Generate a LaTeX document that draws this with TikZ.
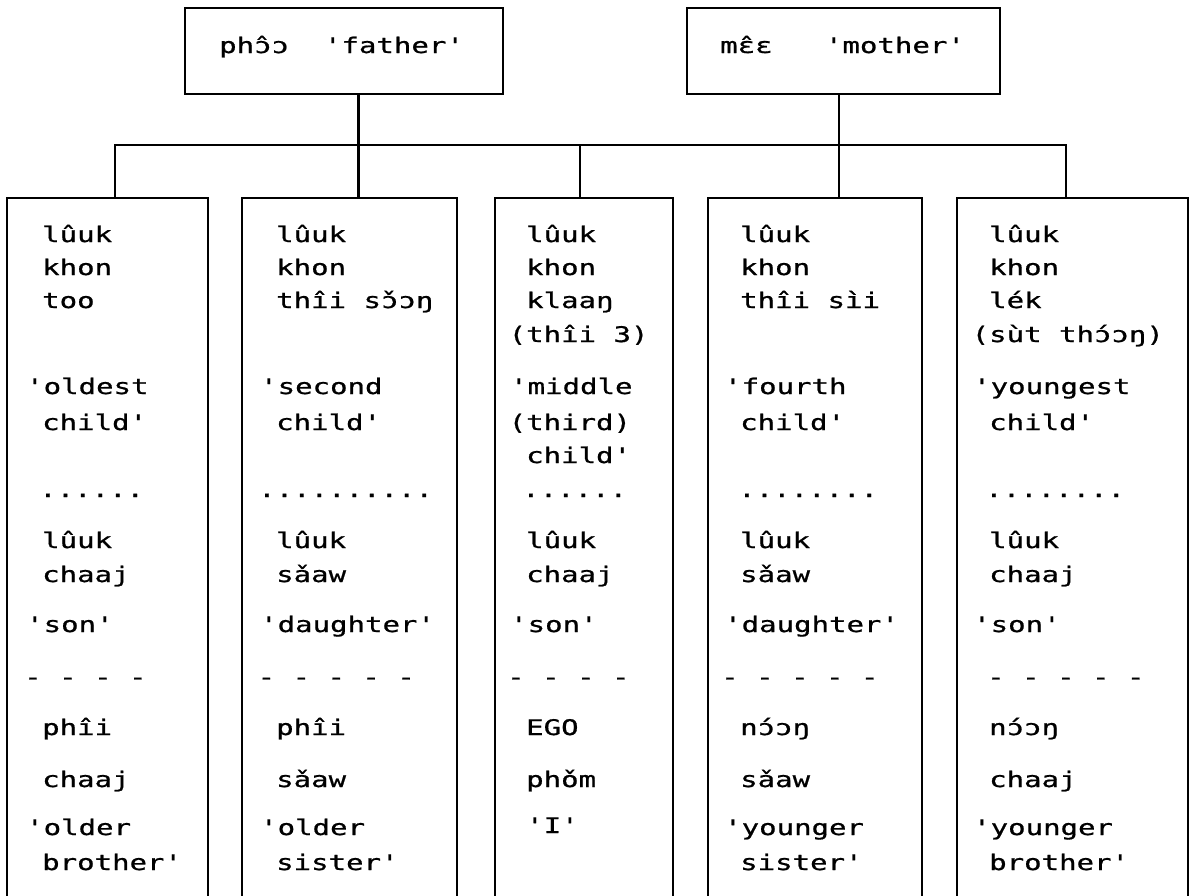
\documentclass[tikz,border=0pt]{standalone}
\usepackage{fontspec}
\setmonofont{DejaVu Sans Mono}[FakeStretch=1.35,FakeBold=0.8]
\tikzset{
  lbl/.style={anchor=base west, inner sep=0pt, font=\ttfamily\fontsize{21.5pt}{26pt}\selectfont},
  framebox/.style={draw, line width=2.2pt, inner sep=0pt},
  link/.style={line width=2.2pt, line join=miter},
}
\begin{document}
\begin{tikzpicture}[x=1pt,y=-1pt]
\useasboundingbox[fill=white] (0,0) rectangle (1194,895);
% parent boxes
\node[framebox, minimum width=318pt, minimum height=86pt] (f) at (344,51) {};
\node[framebox, minimum width=313pt, minimum height=86pt] (m) at (843.5,51) {};
\node[lbl] (ft) at (219,53) {phɔ̂ɔ~~'father'};
\node[lbl] (mt) at (720,53) {mɛ̂ɛ~~~'mother'};
% child columns (open at the bottom edge of the page)
\node[framebox, minimum width=201pt, minimum height=722pt] (c1) at (107.5,559) {};
\node[framebox, minimum width=215pt, minimum height=722pt] (c2) at (349.5,559) {};
\node[framebox, minimum width=178pt, minimum height=722pt] (c3) at (584,559) {};
\node[framebox, minimum width=214pt, minimum height=722pt] (c4) at (815,559) {};
\node[framebox, minimum width=231pt, minimum height=722pt] (c5) at (1072.5,559) {};
% connectors
\coordinate (j1) at (115,145);
\coordinate (j2) at (358.5,145);
\coordinate (j3) at (580,145);
\coordinate (j4) at (839,145);
\coordinate (j5) at (1066,145);
\draw[link] (j1 |- c1.north) -- (j1) -- (j5) -- (j5 |- c5.north);
\draw[link] (f.south -| j2) -- (j2 |- c2.north);
\draw[link] (m.south -| j4) -- (j4 |- c4.north);
\draw[link] (j3) -- (j3 |- c3.north);
% column 1
\node[lbl] (a1) at (42,242) {lûuk};
\node[lbl] (a2) at (42,275) {khon};
\node[lbl] (a3) at (42,308) {too};
\node[lbl] (a4) at (26,394) {'oldest};
\node[lbl] (a5) at (42,430) {child'};
\node[lbl] (a6) at (39,497) {......};
\node[lbl] (a7) at (42,548) {lûuk};
\node[lbl] (a8) at (42,582) {chaaj};
\node[lbl] (a9) at (26,632) {'son'};
\node[lbl] (a10) at (24,684.5) {- - - -};
\node[lbl] (a11) at (42,735) {phîi};
\node[lbl] (a12) at (42,787) {chaaj};
\node[lbl] (a13) at (26,835) {'older};
\node[lbl] (a14) at (42,870) {brother'};
% column 2
\node[lbl] (b1) at (276,242) {lûuk};
\node[lbl] (b2) at (276,275) {khon};
\node[lbl] (b3) at (276,308) {thîi sɔ̌ɔŋ};
\node[lbl] (b4) at (260,394) {'second};
\node[lbl] (b5) at (276,430) {child'};
\node[lbl] (b6) at (258,497) {..........};
\node[lbl] (b7) at (276,548) {lûuk};
\node[lbl] (b8) at (276,582) {sǎaw};
\node[lbl] (b9) at (260,632) {'daughter'};
\node[lbl] (b10) at (257.4,684.5) {- - - - -};
\node[lbl] (b11) at (276,735) {phîi};
\node[lbl] (b12) at (276,787) {sǎaw};
\node[lbl] (b13) at (260,835) {'older};
\node[lbl] (b14) at (276,870) {sister'};
% column 3
\node[lbl] (d1) at (526,242) {lûuk};
\node[lbl] (d2) at (526,275) {khon};
\node[lbl] (d3) at (526,308) {klaaŋ};
\node[lbl] (d4) at (508.5,342) {(thîi 3)};
\node[lbl] (d5) at (510,394) {'middle};
\node[lbl] (d6) at (508.5,430) {(third)};
\node[lbl] (d7) at (526,463) {child'};
\node[lbl] (d8) at (522,497) {......};
\node[lbl] (d9) at (526,548) {lûuk};
\node[lbl] (d10) at (526,582) {chaaj};
\node[lbl] (d11) at (510,632) {'son'};
\node[lbl] (d12) at (507,684.5) {- - - -};
\node[lbl] (d13) at (526,735) {EGO};
\node[lbl] (d14) at (526,787) {phǒm};
\node[lbl] (d15) at (526,833) {'I'};
% column 4
\node[lbl] (e1) at (740,242) {lûuk};
\node[lbl] (e2) at (740,275) {khon};
\node[lbl] (e3) at (740,308) {thîi sìi};
\node[lbl] (e4) at (724,394) {'fourth};
\node[lbl] (e5) at (740,430) {child'};
\node[lbl] (e6) at (738,497) {........};
\node[lbl] (e7) at (740,548) {lûuk};
\node[lbl] (e8) at (740,582) {sǎaw};
\node[lbl] (e9) at (724,632) {'daughter'};
\node[lbl] (e10) at (721,684.5) {- - - - -};
\node[lbl] (e11) at (740,735) {nɔ́ɔŋ};
\node[lbl] (e12) at (740,787) {sǎaw};
\node[lbl] (e13) at (724,835) {'younger};
\node[lbl] (e14) at (740,870) {sister'};
% column 5
\node[lbl] (g1) at (989,242) {lûuk};
\node[lbl] (g2) at (989,275) {khon};
\node[lbl] (g3) at (989,308) {lék};
\node[lbl] (g4) at (971.5,342) {(sùt thɔ́ɔŋ)};
\node[lbl] (g5) at (973,394) {'youngest};
\node[lbl] (g6) at (989,430) {child'};
\node[lbl] (g7) at (985,497) {........};
\node[lbl] (g8) at (989,548) {lûuk};
\node[lbl] (g9) at (989,582) {chaaj};
\node[lbl] (g10) at (973,632) {'son'};
\node[lbl] (g11) at (987,684.5) {- - - - -};
\node[lbl] (g12) at (989,735) {nɔ́ɔŋ};
\node[lbl] (g13) at (989,787) {chaaj};
\node[lbl] (g14) at (973,835) {'younger};
\node[lbl] (g15) at (989,870) {brother'};
\end{tikzpicture}
\end{document}
